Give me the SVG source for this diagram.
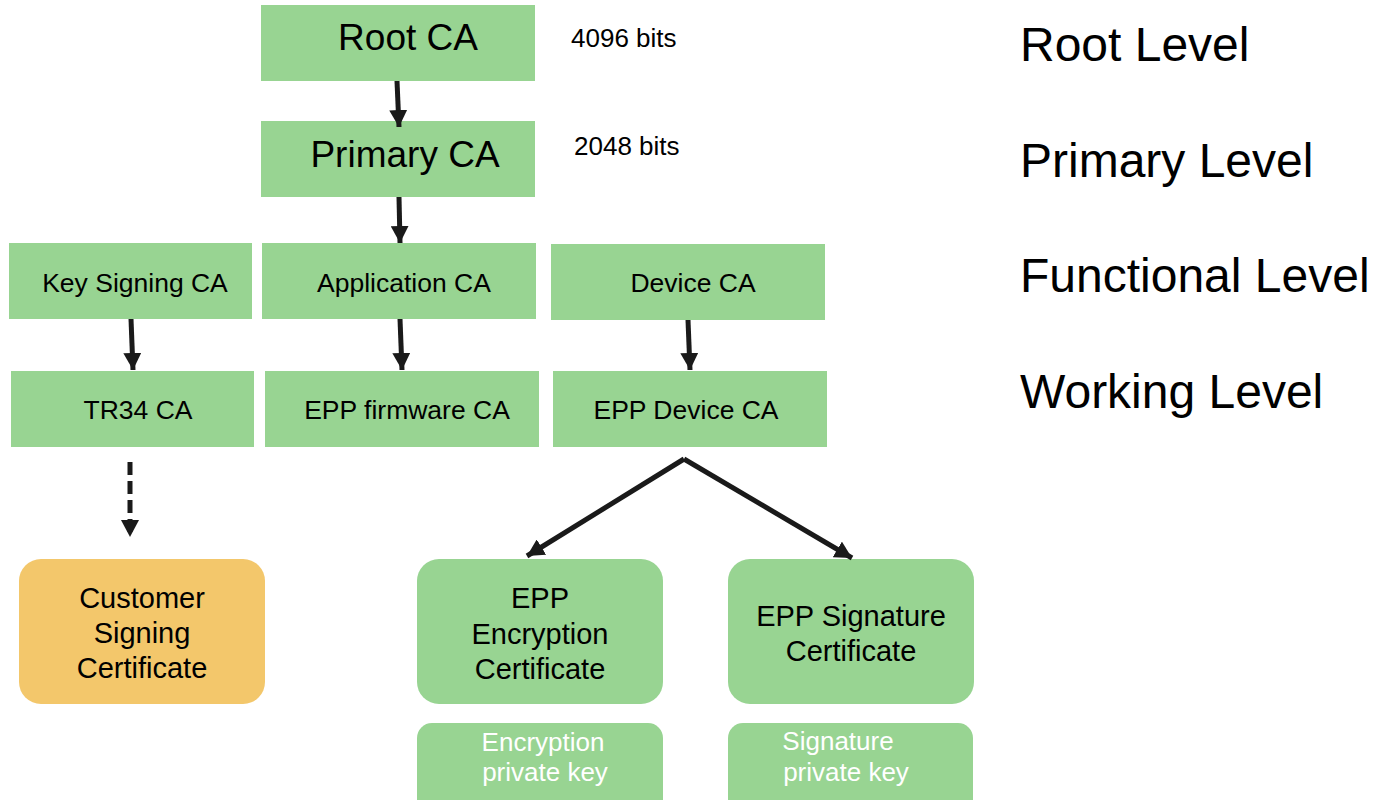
<svg xmlns="http://www.w3.org/2000/svg" width="1373" height="800" viewBox="0 0 1373 800">
<defs>
<style>
.box{fill:#98D492;}
.cust{fill:#F3C76B;}
.t{font-family:"Liberation Sans",Arial,sans-serif;fill:#000;text-anchor:middle;}
.w{font-family:"Liberation Sans",Arial,sans-serif;fill:#fff;text-anchor:middle;}
.lvl{font-family:"Liberation Sans",Arial,sans-serif;fill:#000;font-size:48px;}
.bits{font-family:"Liberation Sans",Arial,sans-serif;fill:#000;font-size:26px;}
.arr{stroke:#1a1a1a;stroke-width:5;fill:none;marker-end:url(#ah);}
</style>
<marker id="ah" markerUnits="userSpaceOnUse" markerWidth="17" markerHeight="18" refX="17" refY="9" orient="auto">
<path d="M0,0 L17,9 L0,18 z" fill="#1a1a1a"/>
</marker>
</defs>
<rect width="1373" height="800" fill="#fff"/>

<g id="root-ca"><rect class="box" x="261" y="5" width="274" height="76"/><text class="t" x="408" y="50" font-size="37">Root CA</text></g>
<g id="primary-ca"><rect class="box" x="261" y="121" width="274" height="76"/><text class="t" x="405" y="167" font-size="37">Primary CA</text></g>
<g id="key-signing-ca"><rect class="box" x="9" y="243" width="243" height="76"/><text class="t" x="135" y="292" font-size="26.5">Key Signing CA</text></g>
<g id="application-ca"><rect class="box" x="262" y="243" width="274" height="76"/><text class="t" x="404" y="292" font-size="26.5">Application CA</text></g>
<g id="device-ca"><rect class="box" x="551" y="244" width="274" height="76"/><text class="t" x="693" y="292" font-size="26.5">Device CA</text></g>
<g id="tr34-ca"><rect class="box" x="11" y="371" width="243" height="76"/><text class="t" x="138" y="419" font-size="26.5">TR34 CA</text></g>
<g id="epp-firmware-ca"><rect class="box" x="265" y="371" width="274" height="76"/><text class="t" x="407" y="419" font-size="26.5">EPP firmware CA</text></g>
<g id="epp-device-ca"><rect class="box" x="553" y="371" width="274" height="76"/><text class="t" x="686" y="419" font-size="26.5">EPP Device CA</text></g>

<g id="customer-signing-certificate"><rect class="cust" x="19" y="559" width="246" height="145" rx="22"/><text class="t" font-size="29"><tspan x="142" y="608">Customer</tspan><tspan x="142" y="643">Signing</tspan><tspan x="142" y="678">Certificate</tspan></text></g>
<g id="epp-encryption-certificate"><rect class="box" x="417" y="559" width="246" height="145" rx="22"/><text class="t" font-size="29"><tspan x="540" y="608">EPP</tspan><tspan x="540" y="644">Encryption</tspan><tspan x="540" y="679">Certificate</tspan></text></g>
<g id="epp-signature-certificate"><rect class="box" x="728" y="559" width="246" height="145" rx="22"/><text class="t" font-size="29"><tspan x="851" y="626">EPP Signature</tspan><tspan x="851" y="661">Certificate</tspan></text></g>
<g id="encryption-private-key"><rect class="box" x="417" y="723" width="246" height="95" rx="15"/><text class="w" font-size="26"><tspan x="543" y="751">Encryption</tspan><tspan x="545" y="781">private key</tspan></text></g>
<g id="signature-private-key"><rect class="box" x="728" y="723" width="245" height="95" rx="15"/><text class="w" font-size="26"><tspan x="838" y="750">Signature</tspan><tspan x="846" y="781">private key</tspan></text></g>

<g id="labels">
<text class="bits" x="571" y="47">4096 bits</text>
<text class="bits" x="574" y="155">2048 bits</text>
<text class="lvl" x="1020" y="61">Root Level</text>
<text class="lvl" x="1020" y="177">Primary Level</text>
<text class="lvl" x="1020" y="292">Functional Level</text>
<text class="lvl" x="1020" y="408">Working Level</text>
</g>

<g id="connectors">
<line class="arr" x1="397" y1="81" x2="399" y2="127"/>
<line class="arr" x1="399" y1="197" x2="400" y2="243"/>
<line class="arr" x1="131" y1="319" x2="133" y2="370"/>
<line class="arr" x1="400" y1="319" x2="402" y2="370"/>
<line class="arr" x1="688" y1="320" x2="690" y2="370"/>
<line class="arr" x1="130" y1="462" x2="130" y2="537" stroke-dasharray="13 6"/>
<line class="arr" x1="684" y1="459" x2="527" y2="556"/>
<line class="arr" x1="684" y1="459" x2="852" y2="558"/>
</g>
</svg>
